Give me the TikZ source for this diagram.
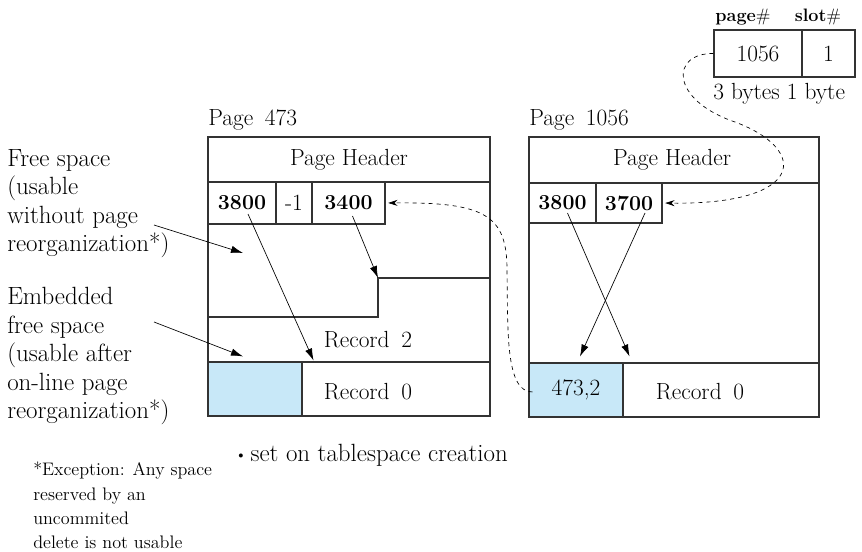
\documentclass[tikz,border=0pt]{standalone}
\usepackage{fontspec}
\usepackage{tikz}
\usetikzlibrary{arrows.meta,calc}
\definecolor{slotblue}{RGB}{200,232,248}

\begin{document}
\begin{tikzpicture}[x=0.75pt,y=-0.75pt,
    every node/.style={font=\fontsize{17.5}{21.4}\selectfont, inner sep=0pt},
    note/.style={anchor=north west, align=left, font=\fontsize{18.7}{21.4}\selectfont},
    box/.style={draw=black!80, line width=0.8pt},
    cell/.style={draw=black!80, line width=0.8pt, minimum height=31.5pt},
    slotnum/.style={font=\fontsize{16}{19}\selectfont\bfseries},
    bluecell/.style={draw=black!80, line width=0.8pt, fill=slotblue, minimum width=70.5pt, minimum height=40.5pt},
    ptr/.style={-{Latex[length=9pt,width=5.5pt]}, line width=0.5pt},
    link/.style={-{Stealth[length=7pt,width=4.5pt]}, dashed, line width=0.5pt, shorten >=2pt}]
                \useasboundingbox (0,0) rectangle (862,552);

                % Pages
                \draw[box] (208,137) rectangle (490,416);
                \draw[box] (208,182) -- (490,182);
                \draw[box] (208,362) -- (490,362);
                \draw[box] (208,317) -- (378,317) -- (378,278) -- (490,278);
                \coordinate (stepc) at (378,278);
                \draw[box] (529,137) rectangle (819,417);
                \draw[box] (529,183) -- (819,183);
                \draw[box] (529,363) -- (819,363);

                % Nodes
                \node[anchor=base west] (pg473) at (208,126) {Page\enspace 473};
                \node[anchor=base west] (pg1056) at (529,126) {Page\enspace 1056};
                \node (hdr473) at (349,160) {Page Header};
                \node (hdr1056) at (672,160) {Page Header};

                \node[cell, slotnum, minimum width=51pt] (s3800) at (242,203) {3800};
                \node[cell, minimum width=27pt] (sneg) at (294,203) {-1};
                \node[cell, slotnum, minimum width=54.75pt] (s3400) at (348.5,203) {3400};
                \node[bluecell] (free0) at (255,389) {};
                \node (rec2) at (368,340) {Record\enspace 2};
                \node (rec0a) at (368,392) {Record\enspace 0};

                \node[cell, slotnum, minimum width=50.25pt, minimum height=30pt] (r3800) at (562.5,203) {3800};
                \node[cell, slotnum, minimum width=49.5pt, minimum height=30pt] (r3700) at (629,203) {3700};
                \node[bluecell] (n4732) at (576,390) {473,2};
                \node (rec0b) at (700,392) {Record\enspace 0};

                \node[font=\fontsize{13.5}{16}\selectfont] (hpage) at (743,17) {\textbf{page}\#};
                \node[font=\fontsize{13.5}{16}\selectfont] (hslot) at (818,17) {\textbf{slot}\#};
                \node[cell, minimum width=66pt, minimum height=35.25pt] (n1056) at (758,53.5) {1056};
                \node[cell, minimum width=39.75pt, minimum height=35.25pt] (nslot) at (828.5,53.5) {1};
                \node[anchor=west] (nbytes) at (713,94) {3 bytes 1 byte};

                \node[note] (fsl) at (7,149) {Free space\\(usable\\without page\\reorganization*)};
                \node[note] (ebl) at (7,287) {Embedded\\free space\\(usable after\\on-line page\\reorganization*)};
                \node[note, font=\fontsize{13.6}{18.2}\selectfont] (exc) at (33,462) {*Exception: Any space\\reserved by an\\uncommited\\delete is not usable};
                \node[anchor=west, font=\fontsize{18.7}{21}\selectfont] (tsc) at (235,455) {\raisebox{1.5pt}{\fontsize{11}{11}\selectfont\textbullet}\,set on tablespace creation};
                \coordinate (fstip) at (243,253);

                % Edges
                \draw[ptr] ($(fsl.north west)+(147,76)$) -- (fstip);
                \draw[ptr] ($(ebl.north west)+(147,35)$) -- ($(free0.north)+(-12,-5)$);
                \draw[ptr] ($(s3800)+(6,11)$) -- ($(free0.north east)+(11,-1)$);
                \draw[ptr] ($(s3400)+(4,13)$) -- (stepc);
                \draw[ptr] ($(r3800)+(5,10)$) -- ($(n4732.north east)+(6,-6)$);
                \draw[ptr] ($(r3700)+(16,10)$) -- ($(n4732.north)+(4,-6)$);
                \draw[link] (n1056.west) .. controls (670,53) and (670,100) .. (735,122)
                    .. controls (810,150) and (805,205) .. (r3700.east);
                \draw[link] ($(n4732.west)+(4,2)$) .. controls (505,392) and (508,330) .. (507,270)
                    .. controls (507,215) and (485,202) .. (s3400.east);
            \end{tikzpicture}
\end{document}
